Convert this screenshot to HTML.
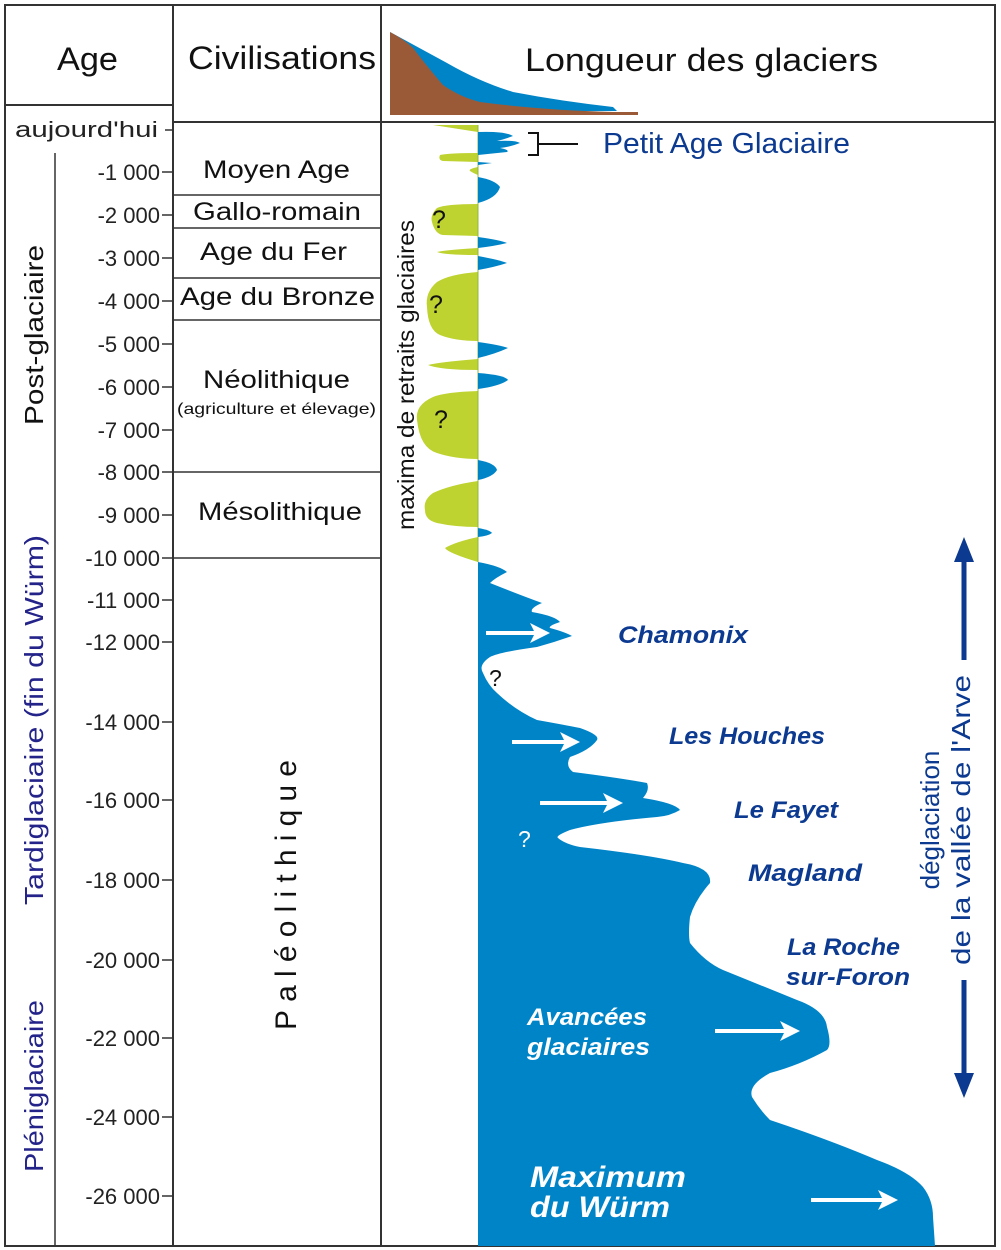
<!DOCTYPE html>
<html><head><meta charset="utf-8"><style>
html,body{margin:0;padding:0;background:#fff;}
svg{display:block;}
text{font-family:"Liberation Sans","DejaVu Sans",sans-serif;}
.t{font-size:22px;fill:#222;text-anchor:end;}
.c{font-size:25px;fill:#111;}
.bl{fill:#0c3a90;font-weight:bold;font-style:italic;font-size:24px;}
.wh{fill:#fff;font-weight:bold;font-style:italic;}
</style></head><body>
<svg width="1001" height="1250" viewBox="0 0 1001 1250">
<g stroke="#333" stroke-width="2" fill="none">
<rect x="5" y="5" width="990" height="1241"/>
<line x1="173" y1="5" x2="173" y2="1246"/>
<line x1="381" y1="5" x2="381" y2="1246"/>
<line x1="5" y1="105" x2="173" y2="105"/>
<line x1="173" y1="122" x2="995" y2="122"/>
<line x1="55" y1="153" x2="55" y2="1246" stroke-width="1.5"/>
<line x1="173" y1="195" x2="381" y2="195" stroke-width="1.5"/>
<line x1="173" y1="228" x2="381" y2="228" stroke-width="1.5"/>
<line x1="173" y1="278" x2="381" y2="278" stroke-width="1.5"/>
<line x1="173" y1="320" x2="381" y2="320" stroke-width="1.5"/>
<line x1="173" y1="472" x2="381" y2="472" stroke-width="1.5"/>
<line x1="173" y1="558" x2="381" y2="558" stroke-width="1.5"/>
</g>
<text x="57" y="70" textLength="61" lengthAdjust="spacingAndGlyphs" style="font-size:32px;fill:#111">Age</text>
<text x="188" y="69" textLength="188" lengthAdjust="spacingAndGlyphs" style="font-size:32px;fill:#111">Civilisations</text>
<text x="525" y="71" textLength="353" lengthAdjust="spacingAndGlyphs" style="font-size:32px;fill:#111">Longueur des glaciers</text>
<path d="M390,32 L447,63 Q480,82 513,92 Q560,101 613,107 L617,111 L390,112Z" fill="#0084c8"/>
<path d="M390,32 Q405,40 413,48 Q430,70 443,85 Q460,97 480,102 Q540,110 613,112 L638,112 L638,115 L390,115Z" fill="#9a5a38"/>
<g stroke="#333" stroke-width="1.5">
<line x1="165" y1="130" x2="173" y2="130"/><line x1="162" y1="172" x2="173" y2="172"/><line x1="162" y1="215" x2="173" y2="215"/><line x1="162" y1="258" x2="173" y2="258"/><line x1="162" y1="301" x2="173" y2="301"/><line x1="162" y1="344" x2="173" y2="344"/><line x1="162" y1="387" x2="173" y2="387"/><line x1="162" y1="430" x2="173" y2="430"/><line x1="162" y1="472" x2="173" y2="472"/><line x1="162" y1="515" x2="173" y2="515"/><line x1="162" y1="558" x2="173" y2="558"/><line x1="162" y1="600" x2="173" y2="600"/><line x1="162" y1="642" x2="173" y2="642"/><line x1="162" y1="722" x2="173" y2="722"/><line x1="162" y1="800" x2="173" y2="800"/><line x1="162" y1="880" x2="173" y2="880"/><line x1="162" y1="960" x2="173" y2="960"/><line x1="162" y1="1038" x2="173" y2="1038"/><line x1="162" y1="1117" x2="173" y2="1117"/><line x1="162" y1="1196" x2="173" y2="1196"/>
</g>
<g class="t">
<text x="158" y="137" textLength="143" lengthAdjust="spacingAndGlyphs">aujourd'hui</text>
<text x="160" y="180">-1 000</text><text x="160" y="223">-2 000</text><text x="160" y="266">-3 000</text><text x="160" y="309">-4 000</text><text x="160" y="352">-5 000</text><text x="160" y="395">-6 000</text><text x="160" y="438">-7 000</text><text x="160" y="480">-8 000</text><text x="160" y="523">-9 000</text><text x="160" y="566">-10 000</text><text x="160" y="608">-11 000</text><text x="160" y="650">-12 000</text><text x="160" y="730">-14 000</text><text x="160" y="808">-16 000</text><text x="160" y="888">-18 000</text><text x="160" y="968">-20 000</text><text x="160" y="1046">-22 000</text><text x="160" y="1125">-24 000</text><text x="160" y="1204">-26 000</text>
</g>
<text transform="translate(43,425) rotate(-90)" textLength="180" lengthAdjust="spacingAndGlyphs" style="font-size:26px;fill:#111">Post-glaciaire</text>
<text transform="translate(43,905) rotate(-90)" textLength="370" lengthAdjust="spacingAndGlyphs" style="font-size:26px;fill:#23238a">Tardiglaciaire (fin du Würm)</text>
<text transform="translate(43,1172) rotate(-90)" textLength="172" lengthAdjust="spacingAndGlyphs" style="font-size:26px;fill:#23238a">Pléniglaciaire</text>
<g class="c">
<text x="203" y="178" textLength="147" lengthAdjust="spacingAndGlyphs">Moyen Age</text>
<text x="193" y="220" textLength="168" lengthAdjust="spacingAndGlyphs">Gallo-romain</text>
<text x="200" y="260" textLength="147" lengthAdjust="spacingAndGlyphs">Age du Fer</text>
<text x="180" y="305" textLength="195" lengthAdjust="spacingAndGlyphs">Age du Bronze</text>
<text x="203" y="388" textLength="147" lengthAdjust="spacingAndGlyphs">Néolithique</text>
<text x="177" y="414" textLength="199" lengthAdjust="spacingAndGlyphs" style="font-size:16px">(agriculture et élevage)</text>
<text x="198" y="520" textLength="164" lengthAdjust="spacingAndGlyphs">Mésolithique</text>
</g>
<text transform="translate(296,1030) rotate(-90)" textLength="270" lengthAdjust="spacing" style="font-size:30px;fill:#111">Paléolithique</text>
<text transform="translate(414,530) rotate(-90)" textLength="310" lengthAdjust="spacingAndGlyphs" style="font-size:23px;fill:#111">maxima de retraits glaciaires</text>
<g fill="#bed230">
<path d="M433,125 L478,125 L478,132Z"/>
<path d="M478,153 Q450,153 440,155 Q438,160 443,161 L478,162Z"/>
<path d="M478,167 Q468,169 470,171 Q475,174 478,175Z"/>
<path d="M478,204 Q445,204 437,208 Q430,215 432,222 Q435,234 443,235 L478,236Z"/>
<path d="M478,248 Q445,250 437,252 Q445,255 478,255Z"/>
<path d="M478,272 Q450,274 437,282 Q425,292 427,307 Q428,330 440,335 Q455,341 478,341Z"/>
<path d="M478,359 Q440,362 428,365 Q440,370 478,370Z"/>
<path d="M478,391 Q445,392 433,397 Q415,405 417,420 Q420,448 437,453 Q455,459 478,459Z"/>
<path d="M478,481 Q450,485 433,493 Q423,500 425,510 Q425,520 437,523 Q455,527 478,527Z"/>
<path d="M478,537 Q455,542 445,548 Q448,553 478,562Z"/>
</g>
<line x1="478" y1="125" x2="478" y2="562" stroke="#8fb840" stroke-width="1"/>
<g fill="#0084c8">
<path d="M478,132 Q505,131 513,136 Q505,139 497,141 Q515,140 520,143 Q510,147 500,148 Q510,150 507,152 L478,155Z"/>
<path d="M478,162 L492,163 L478,165Z"/>
<path d="M478,177 Q495,180 500,187 Q497,198 478,203Z"/>
<path d="M478,237 Q500,240 507,243 Q495,246 478,248Z"/>
<path d="M478,256 Q500,260 507,263 Q495,267 478,270Z"/>
<path d="M478,342 Q500,345 508,348 Q495,354 478,358Z"/>
<path d="M478,373 Q505,375 508,380 Q500,386 478,389Z"/>
<path d="M478,460 Q495,463 497,470 Q493,477 478,480Z"/>
<path d="M478,528 Q490,530 492,533 Q488,536 478,537Z"/>
<path d="M478,562 Q500,566 507,572 Q495,578 490,583 Q520,595 542,603 Q530,608 532,612 Q555,616 560,622 Q548,626 550,628 Q565,632 572,636 Q555,642 537,647 Q500,652 490,657 Q478,665 483,673 Q488,685 497,693 Q515,710 537,720 Q565,725 580,728 Q600,735 597,740 Q590,750 570,757 Q565,766 573,772 Q620,778 647,783 Q650,790 643,798 Q675,803 680,810 Q670,816 657,817 Q600,822 570,830 Q555,836 558,838 Q565,844 580,847 Q650,855 683,863 Q712,868 710,883 Q695,900 690,917 Q688,935 690,943 Q705,962 723,970 Q760,985 797,1000 Q825,1010 827,1027 Q832,1045 827,1050 Q800,1065 770,1073 Q748,1085 752,1097 Q760,1110 770,1120 Q830,1140 877,1160 Q910,1172 923,1187 Q933,1200 933,1217 L935,1246 L478,1246Z"/>
</g>
<g stroke="#fff" stroke-width="4" fill="none">
<line x1="486" y1="633" x2="535" y2="633"/><line x1="512" y1="742" x2="565" y2="742"/><line x1="540" y1="803" x2="608" y2="803"/><line x1="715" y1="1031" x2="785" y2="1031"/><line x1="811" y1="1200" x2="883" y2="1200"/>
</g>
<g fill="#fff">
<polygon points="530,623 550,633 530,643 535,633"/>
<polygon points="560,732 580,742 560,752 565,742"/>
<polygon points="603,793 623,803 603,813 608,803"/>
<polygon points="780,1021 800,1031 780,1041 785,1031"/>
<polygon points="878,1190 898,1200 878,1210 883,1200"/>
</g>
<text x="489" y="686" style="font-size:23px;fill:#111">?</text>
<text x="518" y="847" style="font-size:23px;fill:#fff">?</text>
<g style="font-size:25px;fill:#111"><text x="432" y="228">?</text><text x="429" y="313">?</text><text x="434" y="428">?</text></g>
<g stroke="#111" stroke-width="2" fill="none"><polyline points="528,133 538,133 538,155 528,155"/><line x1="538" y1="144" x2="578" y2="144"/></g>
<text x="603" y="153" textLength="247" lengthAdjust="spacingAndGlyphs" style="font-size:29px;fill:#0c3a90">Petit Age Glaciaire</text>
<text class="bl" x="618" y="643" textLength="130" lengthAdjust="spacingAndGlyphs">Chamonix</text>
<text class="bl" x="669" y="744" textLength="156" lengthAdjust="spacingAndGlyphs">Les Houches</text>
<text class="bl" x="734" y="818" textLength="104" lengthAdjust="spacingAndGlyphs">Le Fayet</text>
<text class="bl" x="748" y="881" textLength="114" lengthAdjust="spacingAndGlyphs">Magland</text>
<text class="bl" x="787" y="955" textLength="113" lengthAdjust="spacingAndGlyphs">La Roche</text>
<text class="bl" x="786" y="985" textLength="124" lengthAdjust="spacingAndGlyphs">sur-Foron</text>
<text class="wh" x="527" y="1025" textLength="120" lengthAdjust="spacingAndGlyphs" style="font-size:24px">Avancées</text>
<text class="wh" x="527" y="1055" textLength="123" lengthAdjust="spacingAndGlyphs" style="font-size:24px">glaciaires</text>
<text class="wh" x="530" y="1187" textLength="156" lengthAdjust="spacingAndGlyphs" style="font-size:30px">Maximum</text>
<text class="wh" x="530" y="1217" textLength="140" lengthAdjust="spacingAndGlyphs" style="font-size:30px">du Würm</text>
<g stroke="#0c3a90" stroke-width="5"><line x1="964" y1="555" x2="964" y2="660"/><line x1="964" y1="980" x2="964" y2="1080"/></g>
<g fill="#0c3a90"><polygon points="964,537 954,562 974,562"/><polygon points="964,1098 954,1073 974,1073"/></g>
<text transform="translate(939,820) rotate(-90)" style="font-size:26px;text-anchor:middle;fill:#0c3a90">déglaciation</text>
<text transform="translate(970,820) rotate(-90)" textLength="290" lengthAdjust="spacingAndGlyphs" style="font-size:26px;text-anchor:middle;fill:#0c3a90">de la vallée de l'Arve</text>
</svg>
</body></html>
